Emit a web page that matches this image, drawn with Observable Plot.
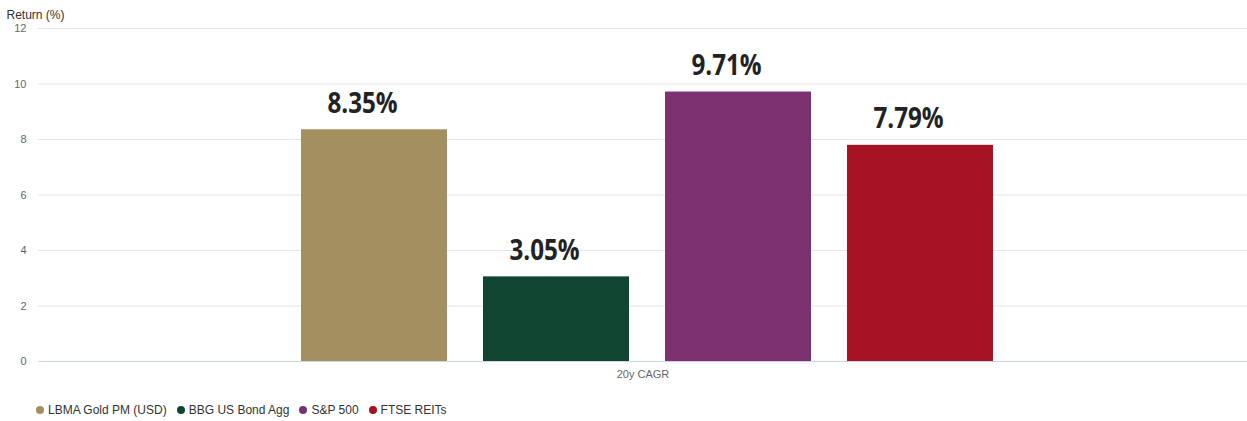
<!DOCTYPE html>
<html>
<head>
<meta charset="utf-8">
<script src="https://cdn.jsdelivr.net/npm/d3@7"></script>
<script src="https://cdn.jsdelivr.net/npm/@observablehq/plot@0.6"></script>
<style>
  html, body { margin: 0; padding: 0; background: #fff; }
  body { width: 1247px; height: 421px; position: relative; overflow: hidden; font-family: "Liberation Sans", Arial, Helvetica, sans-serif; }
  #legend { position: absolute; left: 36px; top: 403px; display: flex; gap: 10px; font-size: 12px; color: #333; }
  #legend .item { display: flex; align-items: center; gap: 4px; }
  #legend .dot { width: 8px; height: 8px; border-radius: 50%; display: inline-block; }
</style>
</head>
<body>
<div id="chart"></div>
<div id="legend"></div>
<script>
const categories = ["20y CAGR"];
const series = ["LBMA Gold PM (USD)", "BBG US Bond Agg", "S&P 500", "FTSE REITs"];
const values = [8.35, 3.05, 9.71, 7.79];
const colors = ["#a48f5f", "#0f4531", "#7b3170", "#a61325"];
const yTicks = [0, 2, 4, 6, 8, 10, 12];
const yTitle = "Return (%)";

const data = series.map((s, i) => ({category: categories[0], series: s, value: values[i]}));

const chart = Plot.plot({
  width: 1247,
  height: 390,
  marginLeft: 38,
  marginRight: 0,
  marginTop: 28,
  marginBottom: 29,
  style: {fontFamily: "'Liberation Sans', Arial, Helvetica, sans-serif", background: "#fff"},
  fx: {domain: categories, padding: 0, label: null},
  x: {domain: series, paddingInner: 0.2, paddingOuter: 0.1, insetLeft: 244, insetRight: 236, axis: null},
  y: {domain: [0, 12], ticks: yTicks, label: null},
  color: {domain: series, range: colors},
  marks: [
    Plot.gridY(yTicks, {stroke: "#e6e6e6", strokeOpacity: 1}),
    Plot.axisY(yTicks, {tickSize: 0, tickPadding: 12, fontSize: 11, fill: "#666", label: null}),
    Plot.axisFx({anchor: "bottom", tickSize: 0, tickPadding: 9, fontSize: 11, fill: "#666", label: null}),
    Plot.barY(data, {fx: "category", x: "series", y: "value", fill: "series"}),
    Plot.ruleY([0], {stroke: "#ccd6eb"}),
    Plot.text(data, {fx: "category", x: "series", y: "value", text: d => d.value.toFixed(2) + "%",
      lineAnchor: "bottom", dy: -17, dx: -12, fontSize: 28, fontWeight: "bold", fill: "#222",
      fontFamily: "'Open Sans', 'Noto Sans', sans-serif"}),
    Plot.text([yTitle], {frameAnchor: "top-left", dx: -32, dy: -18, text: d => d, fontSize: 12, fill: "#333", textAnchor: "start", facetAnchor: "left"})
  ]
});
document.getElementById("chart").appendChild(chart);

// condense the bold data labels horizontally
chart.querySelectorAll('g[font-size="28"] text').forEach(t => {
  const tr = t.getAttribute("transform") || "";
  t.setAttribute("transform", tr + " scale(0.865,1)");
});

const legend = document.getElementById("legend");
series.forEach((s, i) => {
  const item = document.createElement("span");
  item.className = "item";
  const dot = document.createElement("span");
  dot.className = "dot";
  dot.style.background = colors[i];
  const label = document.createElement("span");
  label.textContent = s;
  item.appendChild(dot);
  item.appendChild(label);
  legend.appendChild(item);
});
</script>
</body>
</html>
